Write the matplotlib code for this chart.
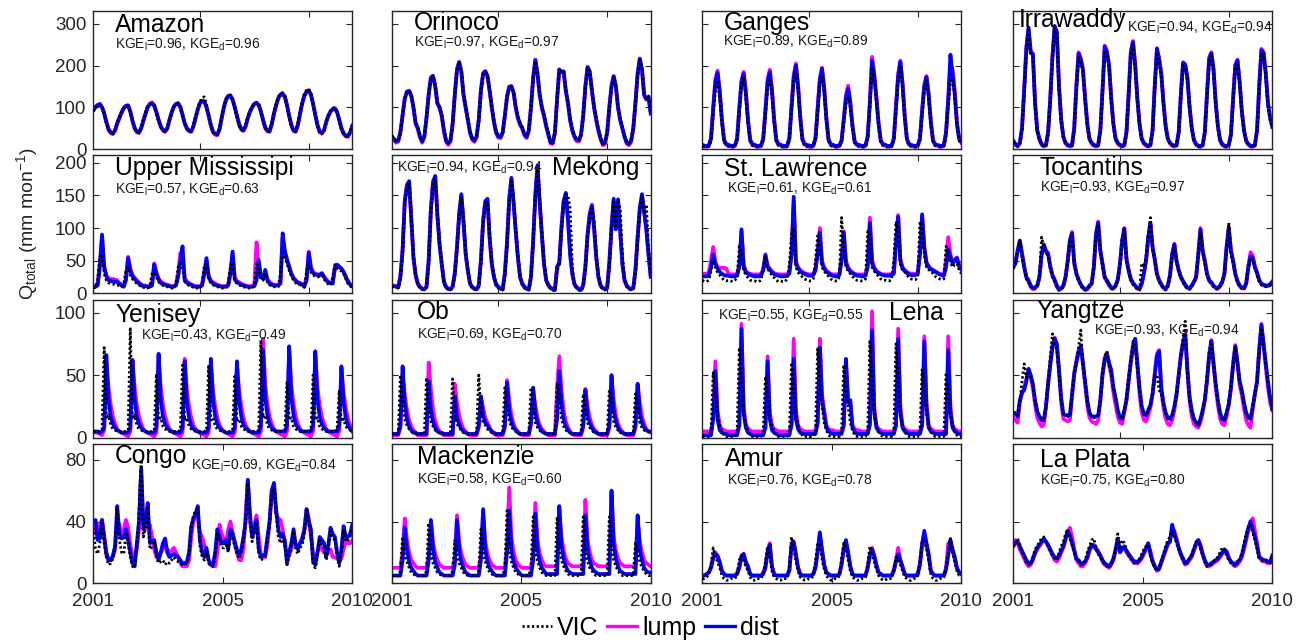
import numpy as np
import matplotlib
matplotlib.use('Agg')
import matplotlib.pyplot as plt
from matplotlib.lines import Line2D

plt.rcParams['font.family'] = ['Liberation Sans', 'DejaVu Sans']
plt.rcParams['mathtext.fontset'] = 'custom'
plt.rcParams['mathtext.rm'] = 'Liberation Sans'
plt.rcParams['mathtext.it'] = 'Liberation Sans:italic'
plt.rcParams['mathtext.bf'] = 'Liberation Sans:bold'

# ---------------- data (monthly, Jan 2001 - Dec 2010) ----------------
basins = ["Amazon", "Orinoco", "Ganges", "Irrawaddy",
          "Upper Mississipi", "Mekong", "St. Lawrence", "Tocantins",
          "Yenisey", "Ob", "Lena", "Yangtze",
          "Congo", "Mackenzie", "Amur", "La Plata"]
kge_l = [0.96, 0.97, 0.89, 0.94, 0.57, 0.94, 0.61, 0.93,
         0.43, 0.69, 0.55, 0.93, 0.69, 0.58, 0.76, 0.75]
kge_d = [0.96, 0.97, 0.89, 0.94, 0.63, 0.94, 0.61, 0.97,
         0.49, 0.70, 0.55, 0.94, 0.84, 0.60, 0.78, 0.80]
year_ticks = [1, 60.5, 120]
year_labels = ["2001", "2005", "2010"]

amazon_dist = [93,100,105,107,100,85,65,48,40,37,45,62,
 75,88,98,103,104,90,68,50,42,40,50,68,
 85,100,107,109,103,88,70,55,46,43,50,70,
 88,102,108,109,100,82,62,50,44,43,55,75,
 95,110,115,113,100,80,58,42,36,35,48,75,
 100,118,126,127,118,100,80,60,48,45,55,75,
 90,100,108,110,105,90,70,52,44,43,60,85,
 105,122,130,132,125,105,80,58,45,43,58,85,
 110,128,137,140,130,108,82,58,42,39,45,65,
 80,90,95,97,88,70,50,38,32,31,40,55]
amazon_lump = [95,101,106,108,101,86,64,46,38,36,44,60,
 74,87,97,104,105,90,67,49,40,38,49,67,
 84,101,109,112,105,89,69,53,44,41,49,69,
 87,101,108,110,101,82,61,48,42,41,54,74,
 94,110,116,114,101,79,56,40,34,33,47,74,
 100,119,128,129,119,100,79,58,46,43,54,74,
 89,100,109,111,106,90,69,50,42,41,59,84,
 104,122,131,133,126,105,79,56,43,41,57,84,
 109,128,138,141,131,108,81,56,40,37,44,64,
 79,90,96,98,89,70,49,36,30,29,39,56]
amazon_vic = [90,98,104,108,102,86,62,45,38,37,47,65,
 78,90,99,103,103,88,70,52,42,39,52,72,
 88,102,108,110,104,86,66,52,44,41,48,68,
 86,100,107,110,101,80,60,48,42,42,56,78,
 97,113,122,125,106,82,55,40,35,34,50,78,
 102,120,128,129,119,98,76,56,46,44,57,78,
 92,102,109,112,106,88,66,50,43,42,62,88,
 108,125,133,135,126,103,76,55,43,42,60,88,
 113,132,141,144,132,106,78,54,40,36,43,62,
 79,92,98,100,90,68,48,37,31,30,41,57]

orinoco_dist = [30,25,18,20,40,80,120,137,139,128,100,62,
 50,30,18,30,75,130,170,174,150,110,100,80,
 45,20,13,20,60,130,190,208,185,130,100,70,
 40,25,20,30,70,140,180,186,175,140,100,65,
 40,30,29,40,80,125,148,150,135,100,75,60,
 50,35,29,45,100,170,213,180,130,100,80,55,
 35,16,15,40,120,190,184,186,140,110,70,45,
 30,22,21,35,80,150,196,185,140,100,70,45,
 25,12,15,40,100,150,174,150,100,70,50,30,
 15,12,20,50,110,180,216,190,130,120,125,85]
orinoco_lump = [28,22,15,18,40,82,122,138,140,127,98,60,
 48,27,15,28,76,132,172,175,150,108,98,78,
 42,17,10,18,60,132,192,209,185,128,98,68,
 38,22,17,28,70,142,182,187,175,138,98,63,
 38,27,26,38,80,127,150,151,135,98,73,58,
 48,32,26,43,101,172,214,180,128,98,78,53,
 33,13,12,38,121,191,185,186,138,108,68,43,
 28,19,18,33,81,152,197,185,138,98,68,43,
 23,9,12,38,101,152,175,150,98,68,48,28,
 13,9,17,48,112,182,217,190,128,118,124,88]
orinoco_vic = [32,26,19,21,38,78,118,136,140,130,102,64,
 52,31,19,29,72,128,174,176,152,112,102,82,
 47,21,14,19,57,128,188,210,188,132,102,72,
 42,26,21,29,67,138,178,185,176,142,102,67,
 42,31,30,39,77,122,146,150,137,102,77,62,
 52,36,30,44,97,167,211,182,132,102,82,57,
 37,17,16,39,117,187,186,188,142,112,72,47,
 32,23,22,34,77,147,194,187,142,102,72,47,
 27,13,16,39,97,147,172,152,102,72,52,32,
 17,13,21,49,107,177,214,192,132,122,127,87]

ganges_dist = [10,8,7,9,25,95,160,182,137,69,22,12,
 10,8,7,9,25,95,160,180,135,68,22,12,
 10,8,7,9,25,90,160,184,140,70,22,12,
 10,8,7,9,25,100,170,200,150,76,24,12,
 10,8,7,9,25,95,165,192,144,73,23,12,
 10,8,7,9,20,70,120,144,108,55,18,11,
 10,8,7,9,30,110,212,175,120,60,20,12,
 10,8,7,9,25,100,175,208,156,79,25,12,
 10,8,7,9,25,90,150,172,129,65,21,11,
 10,8,7,10,40,120,226,180,130,60,25,18]
ganges_lump = [8,6,5,7,25,100,168,188,142,72,20,10,
 8,6,5,7,25,100,165,185,140,70,20,10,
 8,6,5,7,25,95,168,190,146,73,20,10,
 8,6,5,7,25,105,178,205,155,78,22,10,
 8,6,5,7,25,100,170,195,150,75,21,10,
 8,6,5,7,20,75,130,152,115,58,17,9,
 8,6,5,7,30,115,221,182,125,62,19,10,
 8,6,5,7,25,105,180,212,160,80,23,10,
 8,6,5,7,25,95,155,175,133,67,20,9,
 8,6,5,8,38,115,200,190,140,65,24,15]
ganges_vic = [6,5,5,6,20,80,140,160,125,62,18,8,
 6,5,5,6,20,85,150,172,125,60,18,8,
 6,5,5,6,20,80,145,165,130,65,18,8,
 6,5,5,6,20,90,160,188,140,70,20,8,
 6,5,5,6,20,85,155,178,135,66,19,8,
 6,5,5,6,16,60,108,122,100,50,15,7,
 6,5,5,6,25,100,195,170,115,55,17,8,
 6,5,5,6,20,90,165,196,145,72,21,8,
 6,5,5,6,20,80,140,166,122,60,18,8,
 6,5,5,7,32,105,160,170,128,58,20,12]

irrawaddy_dist = [20,12,8,15,50,140,240,291,232,228,110,45,
 25,12,8,10,40,120,220,295,280,150,70,30,
 15,10,8,10,50,150,228,215,190,120,60,25,
 15,10,8,10,45,140,245,232,200,120,60,25,
 15,10,8,10,40,130,230,256,200,120,60,25,
 15,10,8,10,45,150,240,215,180,110,55,25,
 15,10,8,10,40,130,206,200,170,100,50,22,
 12,8,7,10,40,130,215,229,190,110,55,22,
 12,8,7,10,35,120,200,212,160,90,45,20,
 12,8,7,10,45,150,237,230,180,110,75,53]
irrawaddy_lump = [18,10,6,13,50,145,245,288,235,225,112,44,
 23,10,6,8,40,125,225,290,282,152,70,28,
 13,8,6,8,50,155,232,218,192,122,60,23,
 13,8,6,8,45,145,248,235,202,122,60,23,
 13,8,6,8,40,135,235,259,204,122,60,23,
 13,8,6,8,45,155,242,218,182,112,55,23,
 13,8,6,8,40,135,208,204,172,102,50,20,
 10,6,5,8,40,135,220,232,192,112,55,20,
 10,6,5,8,35,125,202,214,162,92,45,18,
 10,6,5,8,45,155,240,232,182,112,76,55]
irrawaddy_vic = [17,10,6,12,45,130,232,285,228,222,105,42,
 22,10,6,8,36,112,212,290,272,145,66,28,
 13,8,6,8,45,140,220,210,185,115,56,23,
 13,8,6,8,40,132,238,228,195,115,56,23,
 13,8,6,8,36,122,224,250,195,115,56,23,
 13,8,6,8,40,142,233,210,175,105,52,23,
 13,8,6,8,36,122,200,196,165,96,47,20,
 10,6,5,8,36,122,210,224,185,105,52,20,
 10,6,5,8,32,112,195,208,155,86,42,18,
 10,6,5,8,40,142,230,226,175,105,70,50]

umiss_dist = [10,10,12,40,90,40,26,20,19,18,18,17,
 14,12,10,20,54,35,26,22,18,15,12,11,
 11,10,10,12,44,30,21,16,14,13,12,11,
 10,10,12,25,50,72,20,16,14,13,11,10,
 10,10,12,30,54,25,18,15,13,12,11,10,
 10,10,12,30,64,21,17,15,13,12,11,10,
 10,10,11,20,51,25,22,36,20,15,13,12,
 12,12,15,92,65,52,41,30,23,19,16,15,
 13,11,20,62,38,31,29,28,28,31,25,20,
 17,15,15,40,44,41,38,33,25,18,13,11]
umiss_lump = [11,11,14,45,85,42,28,23,22,22,21,20,
 16,13,11,24,56,38,28,24,20,17,14,12,
 12,11,11,14,46,32,23,18,16,14,13,12,
 11,11,14,30,62,58,24,18,16,14,12,11,
 11,11,14,34,50,27,20,17,15,13,12,11,
 11,11,14,34,60,24,19,17,15,13,12,11,
 11,11,14,78,40,27,23,33,22,17,15,13,
 13,13,18,85,62,50,40,30,24,20,17,16,
 14,12,24,64,40,33,30,29,29,30,26,21,
 18,16,17,38,42,40,37,33,26,19,14,12]
umiss_vic = [8,9,20,55,60,30,20,16,15,14,14,13,
 11,10,15,35,40,28,22,18,15,13,10,9,
 9,8,12,30,32,25,18,14,12,11,10,9,
 8,8,15,40,46,40,18,14,12,11,9,8,
 8,8,15,42,45,22,16,13,11,10,9,8,
 8,8,15,40,48,20,15,13,11,10,9,8,
 8,8,14,45,40,22,20,30,17,13,11,10,
 10,10,30,62,55,45,35,26,20,16,14,13,
 11,9,35,45,32,28,26,25,26,28,22,17,
 14,13,25,44,38,36,34,30,22,15,11,9]

mekong_dist = [11,11,10,9,25,65,140,165,172,115,55,28,
 15,10,7,6,10,50,128,170,180,120,75,45,
 18,10,7,6,10,30,70,120,152,110,60,35,
 15,10,7,6,12,50,110,140,145,85,45,25,
 14,10,7,6,30,77,144,177,140,95,55,25,
 15,10,7,6,25,80,150,196,140,90,45,20,
 12,8,6,5,40,46,100,140,154,113,60,30,
 14,9,6,5,12,40,90,120,134,100,55,25,
 12,8,6,8,46,100,145,98,144,95,45,20,
 12,8,6,8,35,85,130,152,125,98,60,26]
mekong_lump = [12,12,11,10,27,68,142,167,170,113,54,27,
 14,9,7,6,11,52,130,172,178,118,74,44,
 17,9,7,6,11,32,72,123,150,108,59,34,
 14,9,7,6,13,52,112,142,143,84,44,24,
 13,9,7,6,32,80,146,175,138,94,54,24,
 14,9,7,6,27,82,152,194,138,89,44,19,
 13,9,7,6,41,48,102,142,152,112,59,29,
 13,9,7,6,13,42,92,123,136,99,54,24,
 11,8,7,9,48,102,143,99,142,94,44,19,
 11,8,7,9,37,87,132,150,123,97,59,25]
mekong_vic = [10,10,9,8,22,60,135,160,170,118,58,30,
 13,8,6,5,9,45,122,166,176,125,78,47,
 16,8,6,5,9,27,65,116,148,115,63,37,
 13,8,6,5,10,45,105,136,140,90,48,27,
 12,8,6,5,27,72,138,172,145,100,58,27,
 13,8,6,5,22,75,145,190,145,95,48,22,
 11,7,5,4,35,42,95,135,152,150,130,40,
 12,8,5,4,10,36,85,115,130,110,60,27,
 10,7,5,7,42,95,140,100,140,130,60,22,
 10,7,5,7,30,78,125,150,122,136,70,30]

stlaw_dist = [26,26,26,28,40,59,45,38,33,30,28,27,
 27,26,26,26,27,40,98,41,32,30,28,27,
 26,26,26,27,35,58,40,36,32,29,28,27,
 26,26,26,27,30,60,148,46,38,34,31,30,
 28,27,27,28,35,60,93,46,38,33,31,28,
 27,26,26,28,50,93,46,38,33,31,29,27,
 27,26,26,27,40,108,46,38,33,31,29,28,
 27,27,27,28,30,75,117,50,38,34,31,29,
 28,28,28,30,60,121,70,46,40,37,35,33,
 31,29,28,27,40,67,55,46,50,54,41,36]
stlaw_lump = [30,30,30,32,50,71,48,40,39,39,39,38,
 30,29,29,29,30,45,95,44,34,31,30,29,
 29,29,29,29,38,60,43,38,34,31,30,29,
 29,29,29,29,33,62,140,50,40,36,33,31,
 30,29,29,30,38,65,100,50,40,35,32,30,
 29,29,29,30,55,95,50,40,35,32,30,29,
 29,29,29,29,45,116,52,40,35,32,30,29,
 29,29,29,30,33,80,120,52,40,36,33,31,
 30,30,30,32,62,118,72,48,42,38,36,34,
 32,30,29,29,50,86,60,48,52,55,44,38]
stlaw_vic = [20,18,18,20,35,50,40,32,28,24,20,19,
 20,19,18,20,25,72,60,35,28,24,20,19,
 19,18,18,20,40,55,38,32,28,24,20,18,
 19,18,18,22,45,90,100,40,32,28,25,22,
 20,19,19,22,50,88,70,40,34,30,26,22,
 20,19,19,25,116,70,40,34,30,26,22,20,
 20,19,19,22,95,90,40,34,30,26,22,20,
 20,19,19,22,50,110,95,45,35,34,28,24,
 22,21,21,25,110,100,60,40,36,35,30,26,
 24,22,21,22,72,60,48,40,44,46,36,30]

tocantins_dist = [40,46,65,81,60,40,25,20,12,8,9,12,
 25,60,75,64,60,40,28,21,12,6,8,12,
 25,50,80,92,46,30,21,14,9,6,7,12,
 15,40,90,108,65,45,25,20,14,9,8,12,
 21,45,80,99,52,35,22,16,12,8,7,15,
 31,50,85,106,70,52,30,20,14,9,7,12,
 28,60,75,49,35,25,19,13,9,8,12,18,
 25,60,98,65,49,30,20,17,12,9,8,12,
 18,30,70,100,65,49,30,19,12,9,8,15,
 40,57,54,40,31,20,15,13,12,12,14,18]
tocantins_lump = [42,48,66,80,62,42,24,18,10,6,8,11,
 24,58,74,66,62,42,27,19,10,5,7,11,
 24,48,82,94,48,31,20,13,8,5,6,11,
 14,40,92,110,66,45,24,18,12,8,7,11,
 20,44,82,100,54,35,21,15,11,7,6,14,
 30,50,86,108,72,52,29,19,13,8,6,11,
 27,60,76,50,36,25,18,12,8,7,11,17,
 24,60,100,66,50,30,19,16,11,8,7,11,
 17,30,72,102,66,50,29,18,11,8,7,15,
 42,63,58,42,32,20,14,12,11,11,13,17]
tocantins_vic = [38,44,62,80,58,38,22,17,10,6,7,10,
 24,86,72,62,58,38,25,18,10,5,6,10,
 24,48,78,90,44,28,19,12,7,5,6,10,
 14,38,88,106,62,42,23,18,12,7,6,11,
 20,42,78,97,50,33,20,14,10,6,5,46,
 40,55,90,116,68,50,28,18,12,7,5,10,
 26,58,73,48,33,23,17,11,7,6,10,16,
 23,58,96,63,47,28,18,15,10,7,6,10,
 16,28,68,108,62,47,28,17,10,7,6,13,
 38,55,52,38,29,18,13,11,10,10,12,16]

yenisey_dist = [5,5,5,4,5,8,66,30,17,11,8,6,
 5,4,4,4,4,8,62,30,17,11,8,6,
 5,4,4,4,4,8,67,30,17,11,8,6,
 5,4,4,4,4,8,61,28,16,10,7,6,
 5,4,4,4,4,8,63,30,17,11,8,6,
 5,4,4,4,4,8,61,30,17,10,8,6,
 5,4,4,4,4,10,70,32,18,11,8,6,
 5,5,5,5,5,10,73,32,18,11,8,6,
 5,5,5,5,5,10,69,30,17,11,8,6,
 5,5,5,5,5,10,57,28,16,10,7,5]
yenisey_lump = [4,4,4,3,2,6,60,40,26,17,11,7,
 5,4,3,2,1,5,62,40,26,17,11,7,
 5,4,3,2,1,4,65,40,26,17,11,7,
 5,4,3,2,1,4,63,38,25,16,10,7,
 5,4,3,2,1,4,60,38,25,16,10,7,
 5,4,3,2,1,4,58,38,25,16,10,7,
 5,4,3,2,1,5,79,42,27,17,11,7,
 5,4,3,2,1,5,70,42,27,17,11,7,
 5,4,3,2,1,5,66,40,26,17,11,7,
 5,4,3,2,1,5,55,36,24,15,10,6]
yenisey_vic = [5,5,5,5,6,72,15,18,10,7,6,5,
 5,5,5,5,6,87,15,18,10,7,6,5,
 5,5,5,5,6,51,14,16,9,7,6,5,
 5,5,5,5,6,58,14,16,9,7,6,5,
 5,5,5,5,6,58,14,16,9,7,6,5,
 5,5,5,5,6,49,13,15,9,7,6,5,
 5,5,5,5,6,78,16,18,10,7,6,5,
 5,5,5,5,6,45,14,16,9,7,6,5,
 5,5,5,5,6,50,14,16,9,7,6,5,
 5,5,5,5,6,38,13,15,9,7,6,5]

ob_dist = [3,3,3,3,10,57,28,15,9,6,4,4,
 3,3,3,3,3,45,22,13,8,5,4,4,
 3,3,3,3,3,33,16,11,7,5,4,3,
 3,3,3,3,10,33,18,12,10,7,5,4,
 3,3,3,3,10,44,22,13,8,6,4,3,
 3,3,3,3,12,40,20,12,8,5,4,3,
 3,3,3,3,15,53,28,15,9,6,4,3,
 3,3,3,3,10,38,18,12,8,5,4,3,
 3,3,3,3,10,50,22,13,8,5,4,3,
 3,3,3,3,10,43,20,12,8,6,5,5]
ob_lump = [2,2,2,2,8,50,35,22,14,9,6,4,
 2,2,2,2,2,60,38,22,13,8,5,3,
 2,2,2,2,2,43,28,18,11,7,5,3,
 2,2,2,2,8,33,24,16,12,8,5,3,
 2,2,2,2,8,46,30,18,11,7,5,3,
 2,2,2,2,10,38,26,16,10,7,5,3,
 2,2,2,2,40,65,38,22,13,8,5,3,
 2,2,2,2,8,39,25,16,10,7,5,3,
 2,2,2,2,8,48,30,18,11,7,5,3,
 2,2,2,2,8,43,28,17,11,7,5,4]
ob_vic = [3,3,3,4,50,30,15,10,7,5,4,3,
 3,3,3,3,48,25,13,9,6,5,4,3,
 3,3,3,3,47,20,11,8,6,4,4,3,
 3,3,3,4,50,22,12,10,7,5,4,3,
 3,3,3,4,40,28,13,9,6,5,4,3,
 3,3,3,4,40,25,12,8,6,4,4,3,
 3,3,3,4,43,35,15,9,6,5,4,3,
 3,3,3,4,35,22,12,8,6,4,4,3,
 3,3,3,4,38,30,13,8,6,4,4,3,
 3,3,3,4,35,25,12,8,6,5,5,4]

lena_dist = [2,2,2,2,2,15,53,15,6,4,3,3,
 2,2,2,2,2,10,87,20,8,4,3,2,
 2,2,2,2,2,8,61,15,6,4,3,2,
 2,2,2,2,2,10,63,15,7,4,3,3,
 3,3,3,3,3,12,72,30,19,8,5,4,
 3,3,3,3,3,10,63,28,30,8,5,3,
 3,3,3,3,3,10,86,20,8,5,4,3,
 3,3,3,3,3,10,79,20,8,5,4,3,
 3,3,3,3,3,10,77,25,8,5,4,3,
 3,3,3,3,3,70,20,8,5,4,3,3]
lena_lump = [5,5,5,5,5,15,61,22,10,7,6,5,
 5,5,5,5,5,10,91,25,11,7,6,5,
 5,5,5,5,5,8,65,20,10,7,6,5,
 5,5,5,5,5,10,79,22,10,7,6,5,
 5,5,5,5,5,12,79,35,22,10,7,6,
 6,5,5,5,5,10,60,30,28,10,7,6,
 6,5,5,5,5,12,101,25,10,7,6,5,
 5,5,5,5,5,10,87,25,10,7,6,5,
 5,5,5,5,5,10,81,28,10,7,6,5,
 5,5,5,5,5,81,25,10,7,6,5,5]
lena_vic = [1,1,1,1,5,52,35,19,10,5,2,1,
 1,1,1,1,5,72,50,19,10,5,2,1,
 1,1,1,1,5,49,35,18,10,5,2,1,
 1,1,1,1,5,60,40,19,10,5,2,1,
 1,1,1,1,5,71,45,25,12,6,2,1,
 1,1,1,1,5,58,40,25,12,6,2,1,
 1,1,1,1,5,78,45,19,10,5,2,1,
 1,1,1,1,5,75,45,19,10,5,2,1,
 1,1,1,1,5,55,40,19,10,5,2,1,
 1,1,1,1,52,35,19,10,5,2,1,1]

yangtze_dist = [20,19,17,30,36,38,45,55,50,43,30,21,
 17,14,14,25,43,58,72,79,75,55,32,19,
 18,18,18,35,51,60,68,73,60,45,30,20,
 17,17,17,18,30,50,62,67,60,54,40,32,
 22,16,15,22,30,45,60,72,79,60,40,25,
 19,18,22,26,35,50,65,69,40,28,20,16,
 15,18,25,35,50,65,75,82,55,33,22,15,
 12,10,15,22,30,45,65,77,60,43,30,20,
 15,14,20,27,40,58,73,60,45,38,28,20,
 16,15,25,35,45,70,90,75,60,45,32,23]
yangtze_lump = [16,14,12,28,36,40,47,55,48,40,26,16,
 12,9,10,24,44,60,74,80,74,52,28,15,
 14,13,14,33,52,62,70,74,58,42,26,16,
 13,12,11,14,30,52,64,68,58,50,36,26,
 17,12,11,20,30,47,62,74,79,57,35,20,
 14,13,18,24,35,52,67,70,38,24,15,11,
 10,14,22,34,50,67,77,83,52,29,17,11,
 9,8,12,20,30,47,67,78,58,40,26,15,
 11,10,17,26,40,60,74,60,42,34,23,14,
 10,8,22,35,45,72,91,74,56,40,28,22]
yangtze_vic = [20,20,18,28,45,59,48,52,48,42,30,22,
 17,15,15,24,45,65,83,75,70,52,30,19,
 18,17,18,33,50,62,72,86,58,44,28,20,
 17,16,16,18,30,52,65,69,58,50,40,32,
 22,16,15,22,32,48,62,77,72,55,38,25,
 19,18,22,26,35,50,50,38,35,26,19,15,
 14,16,24,33,50,65,80,93,52,30,20,15,
 12,10,14,22,32,48,68,75,58,42,28,19,
 15,14,20,28,42,58,72,58,44,36,26,19,
 16,15,24,34,45,68,88,72,58,44,32,22]

congo_dist = [40,41,28,29,41,30,20,15,15,18,24,50,
 32,29,30,35,28,20,13,11,26,40,74,35,
 40,52,26,27,28,20,15,20,26,29,20,17,
 18,19,18,17,15,13,13,14,20,37,42,45,
 50,28,20,17,23,15,12,12,20,35,30,26,
 26,28,22,35,32,27,22,18,22,30,40,67,
 45,30,35,41,22,17,18,19,30,40,60,65,
 48,35,30,32,28,13,20,26,35,25,22,26,
 28,35,48,40,35,14,12,20,30,28,26,17,
 25,36,32,30,20,13,22,37,30,30,32,38]
congo_lump = [33,35,30,38,41,30,18,15,15,17,22,40,
 38,30,35,41,36,25,18,17,22,35,74,40,
 35,37,38,30,22,17,17,20,22,24,22,20,
 21,23,20,17,13,11,11,11,15,30,40,45,
 42,33,30,25,20,15,12,11,11,20,38,32,
 28,27,35,40,33,25,20,15,15,22,45,67,
 40,30,38,44,30,18,17,17,25,40,60,64,
 45,42,41,35,25,17,18,22,28,25,24,26,
 30,35,48,42,30,19,17,20,25,22,20,19,
 20,22,17,17,16,15,16,22,28,26,26,28]
congo_vic = [36,22,19,26,40,26,17,12,13,16,22,48,
 28,20,19,32,26,17,11,10,24,45,80,30,
 36,50,22,24,26,17,13,14,15,12,14,13,
 15,17,15,14,13,12,12,13,18,36,44,47,
 48,24,17,15,21,13,11,11,18,33,27,23,
 23,26,20,33,29,24,19,16,20,28,38,65,
 40,27,33,40,19,15,16,17,28,38,58,62,
 44,30,26,30,25,12,18,24,34,22,19,23,
 25,32,47,38,32,12,10,18,28,25,23,15,
 22,34,29,28,18,11,20,35,27,28,30,36]

mackenzie_dist = [5,5,5,5,5,15,36,22,14,10,8,6,
 5,5,5,5,5,15,41,22,14,10,7,6,
 5,5,5,5,5,12,41,22,14,10,7,6,
 5,5,5,5,5,15,48,22,14,10,8,6,
 5,5,5,5,5,20,47,22,14,10,8,6,
 5,5,5,5,5,15,45,22,14,10,8,6,
 6,6,6,6,6,50,25,16,11,8,7,6,
 6,6,6,6,6,44,22,15,10,8,7,6,
 6,6,6,6,6,60,25,16,11,8,7,6,
 6,6,6,6,6,44,22,15,10,8,7,7]
mackenzie_lump = [10,10,10,10,10,20,42,28,20,15,13,11,
 10,10,10,10,10,18,40,27,19,15,12,11,
 10,10,10,10,10,16,44,27,19,15,12,11,
 10,10,10,10,10,18,46,27,19,15,12,11,
 10,10,10,10,10,25,62,30,20,15,12,11,
 10,10,10,10,10,20,52,28,19,15,12,11,
 11,11,11,11,11,48,30,21,16,13,12,11,
 11,11,11,11,11,54,28,20,15,13,12,11,
 11,11,11,11,11,58,30,21,16,13,12,11,
 11,11,11,11,11,42,27,20,15,13,12,11]
mackenzie_vic = [5,5,5,5,8,30,18,14,10,7,6,5,
 5,5,5,5,8,39,18,13,10,7,6,5,
 5,5,5,5,8,28,18,13,10,7,6,5,
 5,5,5,5,8,35,20,14,10,7,6,5,
 5,5,5,5,10,47,22,14,10,7,6,5,
 5,5,5,5,10,43,20,14,10,7,6,5,
 5,5,5,5,43,22,15,11,8,6,5,5,
 5,5,5,5,43,20,14,10,8,6,5,5,
 5,5,5,5,43,22,15,11,8,6,5,5,
 5,5,5,5,26,20,14,10,8,6,5,5]

amur_dist = [5,5,6,7,10,16,19,18,14,8,6,5,
 5,5,5,5,6,10,17,19,14,11,6,5,
 5,5,5,5,6,10,20,25,11,6,5,5,
 5,5,5,5,8,25,27,19,10,6,5,5,
 5,5,5,6,10,20,33,22,12,7,6,5,
 5,5,5,6,12,22,28,20,11,6,5,5,
 5,5,5,5,10,18,22,18,12,7,6,5,
 5,5,5,5,8,14,19,15,11,6,5,5,
 5,5,5,6,12,25,34,26,19,8,6,5,
 5,5,5,5,9,18,28,22,17,10,7,6]
amur_lump = [5,5,6,7,11,17,20,17,13,8,6,5,
 5,5,5,5,7,11,18,19,13,10,6,5,
 5,5,5,5,7,11,21,26,11,6,5,5,
 5,5,5,5,9,24,26,18,10,6,5,5,
 5,5,5,6,11,21,31,21,12,7,6,5,
 5,5,5,6,13,23,27,19,11,6,5,5,
 5,5,5,5,11,19,23,17,11,7,6,5,
 5,5,5,5,9,15,23,15,10,6,5,5,
 5,5,5,6,13,26,32,25,18,8,6,5,
 5,5,5,5,10,26,26,21,16,10,7,6]
amur_vic = [3,3,4,6,12,23,17,14,10,5,3,2,
 2,3,3,3,6,15,18,15,11,8,4,2,
 2,3,3,3,6,14,24,18,8,4,3,2,
 2,3,3,3,10,30,22,15,8,4,3,2,
 2,3,3,5,14,26,25,16,9,5,3,2,
 2,3,3,5,16,26,22,15,8,4,3,2,
 2,3,3,4,12,24,18,14,9,5,3,2,
 2,3,3,3,9,17,16,12,8,4,3,2,
 2,3,3,5,14,26,28,22,15,6,3,2,
 2,3,3,4,10,20,29,20,14,8,5,4]

laplata_dist = [25,26,27,24,21,18,15,13,13,16,20,23,
 25,27,29,27,25,22,19,17,16,18,21,24,
 29,34,31,26,21,16,15,13,13,14,17,22,
 25,24,22,20,18,15,13,12,11,13,16,22,
 29,20,22,24,21,19,17,15,14,14,15,17,
 20,23,26,19,14,11,9,10,14,18,22,26,
 27,38,32,28,23,19,16,13,14,16,18,22,
 26,28,24,19,15,12,12,13,14,15,16,18,
 20,22,20,16,14,13,12,14,15,18,24,30,
 36,40,35,30,24,17,16,15,15,14,14,18]
laplata_lump = [24,28,26,22,19,16,13,11,12,15,19,22,
 24,26,28,27,24,21,18,15,14,16,20,23,
 28,33,36,30,22,15,13,11,11,13,16,21,
 24,25,23,21,18,14,12,11,10,12,15,21,
 27,22,23,23,20,18,16,14,13,13,14,16,
 19,22,25,21,15,11,8,9,13,17,21,25,
 27,36,34,29,23,18,15,12,13,15,17,21,
 25,28,25,19,14,11,11,12,13,14,15,17,
 19,21,21,17,14,12,11,12,14,17,22,28,
 34,40,42,34,26,17,15,14,14,13,13,17]
laplata_vic = [24,25,29,25,20,17,13,12,12,17,22,24,
 27,29,30,26,24,21,18,16,15,20,24,27,
 32,35,29,25,20,15,14,12,12,15,20,24,
 28,29,23,19,17,14,12,11,10,12,15,23,
 32,22,28,26,22,18,16,14,12,13,16,19,
 22,24,25,18,13,10,8,9,13,19,24,28,
 30,34,30,26,22,18,15,12,13,16,19,23,
 27,27,22,18,14,11,11,12,14,16,17,20,
 23,22,18,15,13,12,11,13,15,20,26,32,
 36,38,33,28,22,16,15,14,14,13,13,17]

series = [
    (amazon_vic, amazon_lump, amazon_dist),
    (orinoco_vic, orinoco_lump, orinoco_dist),
    (ganges_vic, ganges_lump, ganges_dist),
    (irrawaddy_vic, irrawaddy_lump, irrawaddy_dist),
    (umiss_vic, umiss_lump, umiss_dist),
    (mekong_vic, mekong_lump, mekong_dist),
    (stlaw_vic, stlaw_lump, stlaw_dist),
    (tocantins_vic, tocantins_lump, tocantins_dist),
    (yenisey_vic, yenisey_lump, yenisey_dist),
    (ob_vic, ob_lump, ob_dist),
    (lena_vic, lena_lump, lena_dist),
    (yangtze_vic, yangtze_lump, yangtze_dist),
    (congo_vic, congo_lump, congo_dist),
    (mackenzie_vic, mackenzie_lump, mackenzie_dist),
    (amur_vic, amur_lump, amur_dist),
    (laplata_vic, laplata_lump, laplata_dist),
]

# ---------------- layout ----------------
FW, FH = 1308, 642
col_left = [93.3, 391.7, 702.3, 1013.3]
row_top = [11.3, 155.0, 300.0, 444.3]
row_bot = [149.0, 293.3, 437.7, 583.3]
AW = 259.0
row_ymax = [330, 212, 110, 90]
row_yticks = [[0, 100, 200, 300], [0, 50, 100, 150, 200], [0, 50, 100], [0, 40, 80]]
# (x, y) in axes fraction for basin name and KGE text
title_pos = [(0.084, 0.852), (0.087, 0.864), (0.081, 0.864), (0.022, 0.888),
             (0.084, 0.855), (0.618, 0.855), (0.085, 0.848), (0.100, 0.855),
             (0.084, 0.842), (0.099, 0.860), (0.722, 0.855), (0.090, 0.867),
             (0.081, 0.868), (0.099, 0.858), (0.088, 0.846), (0.103, 0.839)]
kge_pos = [(0.084, 0.731), (0.087, 0.743), (0.081, 0.748), (0.438, 0.852),
           (0.084, 0.723), (0.022, 0.879), (0.094, 0.727), (0.103, 0.735),
           (0.184, 0.710), (0.099, 0.722), (0.062, 0.855), (0.312, 0.746),
           (0.376, 0.815), (0.099, 0.719), (0.094, 0.712), (0.103, 0.707)]

AXC = '#262626'
fig = plt.figure(figsize=(FW / 100, FH / 100), dpi=100)

for i, name in enumerate(basins):
    r, c = divmod(i, 4)
    vic, lump, dist = series[i]
    ax = fig.add_axes([col_left[c] / FW, 1 - row_bot[r] / FH, AW / FW,
                       (row_bot[r] - row_top[r]) / FH])
    ax.plot(np.arange(1, len(vic) + 1), vic, color='black', ls=(0, (0.8, 0.9)), lw=2.0, zorder=3)
    ax.plot(np.arange(1, len(lump) + 1), lump, color='#ff00ff', lw=2.7, zorder=2)
    ax.plot(np.arange(1, len(dist) + 1), dist, color='#0000ff', lw=2.7, zorder=2.5)
    ax.set_xlim(1, 120)
    ax.set_ylim(0, row_ymax[r])
    ax.set_yticks(row_yticks[r])
    if r == 3:
        ax.set_xticks(year_ticks)
        ax.set_xticklabels(year_labels)
    else:
        ax.set_xticks([50, 100])
        ax.set_xticklabels([])
    if c != 0:
        ax.set_yticklabels([])
    ax.tick_params(direction='in', top=True, right=True, length=4, width=0.8,
                   color=AXC, labelcolor=AXC, labelsize=13.5)
    ax.tick_params(axis='x', pad=7)
    ax.tick_params(axis='y', pad=5)
    for s in ax.spines.values():
        s.set_color(AXC)
        s.set_linewidth(1.0)
    tx, ty = title_pos[i]
    ax.text(tx, ty, name, transform=ax.transAxes, fontsize=17.7, ha='left',
            va='baseline', color='black', zorder=5)
    kx, ky = kge_pos[i]
    ax.text(kx, ky, r'KGE$_\mathrm{l}$=%.2f, KGE$_\mathrm{d}$=%.2f' % (kge_l[i], kge_d[i]),
            transform=ax.transAxes, fontsize=9.9, ha='left', va='baseline',
            color='#1a1a1a', zorder=5)

fig.text(27 / FW, 1 - 224 / FH, r'Q$_\mathrm{total}$ (mm mon$^{-1}$)', rotation=90,
         ha='center', va='center', fontsize=14, color=AXC)

handles = [Line2D([], [], color='black', ls=(0, (0.8, 0.9)), lw=2.0),
           Line2D([], [], color='#ff00ff', lw=2.4),
           Line2D([], [], color='#0000ff', lw=2.4)]
fig.legend(handles, ['VIC', 'lump', 'dist'], loc='center',
           bbox_to_anchor=(650 / FW, 1 - 628 / FH), ncol=3, frameon=False,
           fontsize=18, handlelength=1.2, handletextpad=0.2, columnspacing=0.35,
           borderaxespad=0, borderpad=0)

fig.savefig('out.png', dpi=100)
